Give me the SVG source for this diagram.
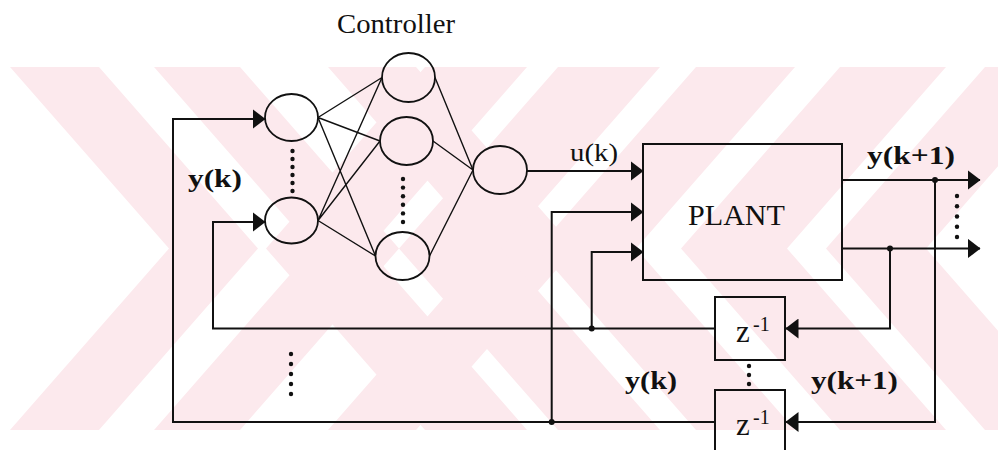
<svg xmlns="http://www.w3.org/2000/svg" width="1005" height="450" viewBox="0 0 1005 450">
<defs>
<marker id="ah" markerUnits="userSpaceOnUse" markerWidth="13" markerHeight="20" viewBox="0 0 13 20" refX="12.5" refY="10" orient="auto"><path d="M0,0 L13,10 L0,20 z" fill="#111"/></marker>
<clipPath id="wmclip"><rect x="4" y="67" width="994" height="363"/></clipPath>
</defs>
<style>
.ln{fill:none;stroke:#111;stroke-width:2}
.thin{fill:none;stroke:#111;stroke-width:1.4}
.nd{fill:none;stroke:#111;stroke-width:1.8}
.bx{fill:none;stroke:#111;stroke-width:2}
.t{font-family:"Liberation Serif","Times New Roman",serif;fill:#111}
.b{font-weight:bold}
.dot{fill:#111}
.wm{fill:#fce9ed}
</style>
<rect width="1005" height="450" fill="#fff"/>
<g id="watermark" clip-path="url(#wmclip)">
<polygon class="wm" points="10,67 99,67 258,248.5 99,430 10,430 169,248.5"/>
<polygon class="wm" points="154,67 240,67 399,248.5 240,430 154,430 313,248.5"/>
<polygon class="wm" points="328,67 416,67 575,248.5 416,430 328,430 487,248.5"/>
<polygon class="wm" points="425,67 527,67 368,248.5 527,430 425,430 266,248.5"/>
<polygon class="wm" points="558,67 660,67 501,248.5 660,430 558,430 399,248.5"/>
<polygon class="wm" points="696,67 795,67 636,248.5 795,430 696,430 537,248.5"/>
<polygon class="wm" points="840,67 946,67 787,248.5 946,430 840,430 681,248.5"/>
<polygon class="wm" points="985,67 1085,67 926,248.5 1085,430 985,430 826,248.5"/>
</g>
<text class="t" x="337" y="33" font-size="27" textLength="118" lengthAdjust="spacingAndGlyphs">Controller</text>
<g id="weights">
<path class="thin" d="M318,117.5 L382,77.5 M318,117.5 L380,141 M318,117.5 L375.5,256 M318,220.5 L382,77.5 M318,220.5 L380,141 M318,220.5 L375.5,256 M435,77.5 L473,170 M433,141 L473,170 M429.5,256 L473,170"/>
</g>
<g id="in1"><ellipse class="nd" cx="291.5" cy="117.5" rx="26.5" ry="23.5"/></g>
<g id="in2"><ellipse class="nd" cx="291.5" cy="220.5" rx="26.5" ry="23"/></g>
<g id="h1"><ellipse class="nd" cx="408.5" cy="77.5" rx="26.5" ry="24.5"/></g>
<g id="h2"><ellipse class="nd" cx="406.5" cy="141" rx="26.5" ry="24"/></g>
<g id="h3"><ellipse class="nd" cx="402.5" cy="256" rx="27" ry="24"/></g>
<g id="out"><ellipse class="nd" cx="500" cy="170" rx="27" ry="24"/></g>
<g id="plant"><rect class="bx" x="643" y="144" width="199" height="136"/><text class="t" x="688" y="225" font-size="29" textLength="97" lengthAdjust="spacingAndGlyphs">PLANT</text></g>
<g id="delay1"><rect class="bx" x="715" y="297" width="70" height="63"/><text class="t" x="736" y="342" font-size="31">z<tspan x="753" y="331" font-size="20">-1</tspan></text></g>
<g id="delay2"><rect class="bx" x="715" y="390" width="70" height="75"/><text class="t" x="736" y="435" font-size="31">z<tspan x="753" y="424" font-size="20">-1</tspan></text></g>
<g id="connectors">
<path class="ln" d="M527,171 H643" marker-end="url(#ah)"/>
<path class="ln" d="M715,422 H173 V119 H265" marker-end="url(#ah)"/>
<path class="ln" d="M715,328.5 H213 V222 H265" marker-end="url(#ah)"/>
<path class="ln" d="M551.7,422 V212 H643" marker-end="url(#ah)"/>
<path class="ln" d="M591.7,328.5 V252 H643" marker-end="url(#ah)"/>
<path class="ln" d="M842,180 H980" marker-end="url(#ah)"/>
<path class="ln" d="M842,248.5 H980" marker-end="url(#ah)"/>
<path class="ln" d="M935,180 V422 H786" marker-end="url(#ah)"/>
<path class="ln" d="M890,248.5 V328.5 H786" marker-end="url(#ah)"/>
<circle class="dot" cx="551.7" cy="422" r="3"/>
<circle class="dot" cx="591.7" cy="328.5" r="3"/>
<circle class="dot" cx="935" cy="180" r="3"/>
<circle class="dot" cx="890" cy="248.5" r="3"/>
</g>
<g id="ellipses">
<g class="dot">
<circle cx="292.5" cy="151" r="2.2"/><circle cx="292.5" cy="159" r="2.2"/><circle cx="292.5" cy="167" r="2.2"/><circle cx="292.5" cy="175" r="2.2"/><circle cx="292.5" cy="183" r="2.2"/><circle cx="292.5" cy="191" r="2.2"/>
<circle cx="403" cy="179" r="2.2"/><circle cx="403" cy="187.6" r="2.2"/><circle cx="403" cy="196.2" r="2.2"/><circle cx="403" cy="204.8" r="2.2"/><circle cx="403" cy="213.4" r="2.2"/><circle cx="403" cy="222" r="2.2"/>
<circle cx="291" cy="354" r="2.2"/><circle cx="291" cy="364" r="2.2"/><circle cx="291" cy="374" r="2.2"/><circle cx="291" cy="384" r="2.2"/><circle cx="291" cy="394" r="2.2"/>
<circle cx="957" cy="196" r="2.2"/><circle cx="957" cy="206.3" r="2.2"/><circle cx="957" cy="216.5" r="2.2"/><circle cx="957" cy="226.8" r="2.2"/><circle cx="957" cy="237" r="2.2"/>
<circle cx="749" cy="366" r="2.2"/><circle cx="749" cy="375" r="2.2"/><circle cx="749" cy="384" r="2.2"/>
</g>
</g>
<g id="labels">
<text class="t b" x="188" y="187" font-size="26" textLength="54" lengthAdjust="spacingAndGlyphs">y(k)</text>
<text class="t" x="570" y="161" font-size="26" textLength="48" lengthAdjust="spacingAndGlyphs">u(k)</text>
<text class="t b" x="867" y="164" font-size="26" textLength="88" lengthAdjust="spacingAndGlyphs">y(k+1)</text>
<text class="t b" x="625" y="389" font-size="26" textLength="52" lengthAdjust="spacingAndGlyphs">y(k)</text>
<text class="t b" x="811" y="389" font-size="26" textLength="87" lengthAdjust="spacingAndGlyphs">y(k+1)</text>
</g>
</svg>
